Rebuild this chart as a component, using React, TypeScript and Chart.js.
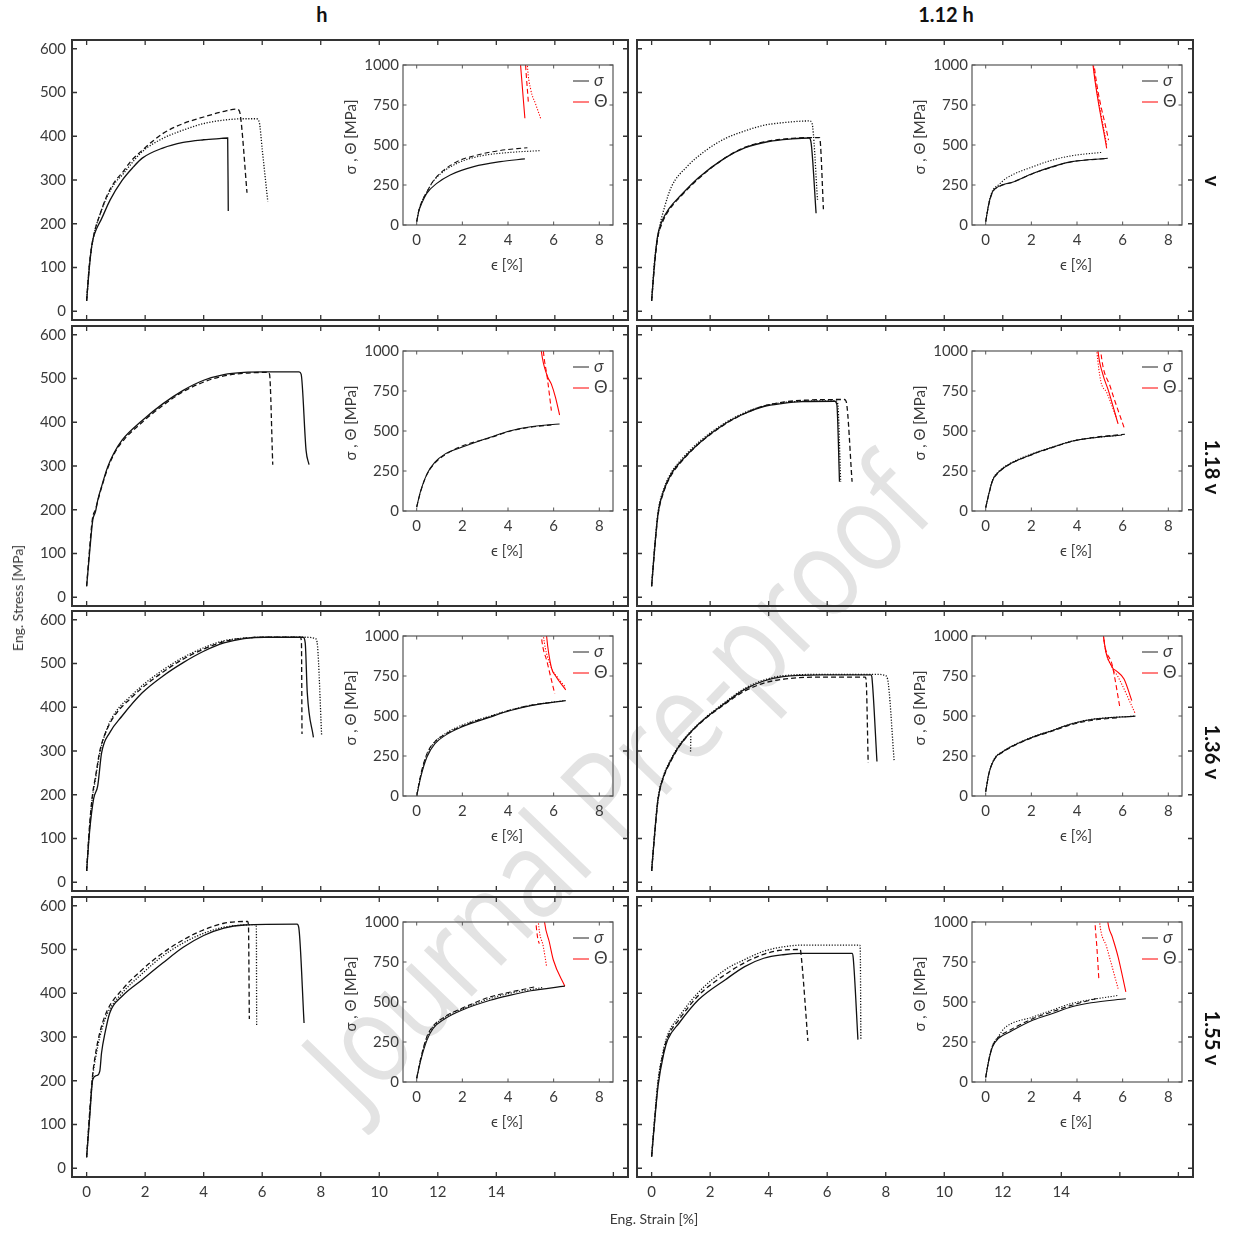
import React, { useEffect, useRef } from "react";
import { Chart, registerables } from "chart.js";
Chart.register(...registerables);

type Pts = [number, number][];

// ---------- tick / label definitions ----------
const MAIN_X_TICKS = [0, 2, 4, 6, 8, 10, 12, 14, 16, 18];
const MAIN_X_LABELED_MAX = 14;
const MAIN_Y_TICKS = [0, 100, 200, 300, 400, 500, 600];
const INSET_X_TICKS = [0, 2, 4, 6, 8];
const INSET_Y_TICKS = [0, 250, 500, 750, 1000];
const COLUMN_TITLES = ["h", "1.12 h"];
const ROW_TITLES = ["v", "1.18 v", "1.36 v", "1.55 v"];
const LEGEND_LABELS = ["σ", "Θ"];
const Y_TITLE = "Eng. Stress [MPa]";
const X_TITLE = "Eng. Strain [%]";
const INSET_Y_TITLE = "σ , Θ [MPa]";
const INSET_X_TITLE = "ϵ [%]";
const WATERMARK = "Journal Pre-proof";

// ---------- panel h / v ----------
const A_M_SOLID: Pts = [[0, 24], [0.1, 105], [0.2, 160], [0.35, 190], [0.5, 210], [0.8, 254], [1.2, 298], [1.6, 330], [1.9, 350], [2.6, 373], [3.3, 386], [4.0, 392], [4.6, 395], [4.82, 396], [4.84, 229]];
const A_M_DASHED: Pts = [[0, 24], [0.1, 110], [0.25, 175], [0.45, 220], [0.7, 265], [1.0, 300], [1.2, 315], [1.5, 342], [1.9, 368], [2.6, 406], [3.3, 429], [4.0, 444], [4.7, 457], [5.1, 462], [5.2, 460], [5.26, 445], [5.48, 271]];
const A_M_DOTTED: Pts = [[0, 24], [0.1, 110], [0.25, 175], [0.45, 220], [0.7, 262], [1.0, 296], [1.2, 310], [1.5, 335], [1.9, 365], [2.6, 395], [3.3, 414], [4.0, 429], [4.7, 437], [5.4, 440], [5.8, 440], [5.9, 432], [6.0, 370], [6.19, 251]];
const A_I_SOLID: Pts = [[0, 21], [0.1, 90], [0.22, 135], [0.44, 198], [0.88, 260], [1.47, 313], [2.5, 365], [3.67, 396], [4.74, 413]];
const A_I_DASHED: Pts = [[0, 21], [0.1, 95], [0.22, 145], [0.44, 205], [0.7, 270], [1.03, 323], [1.76, 396], [2.5, 431], [3.52, 463], [4.85, 483]];
const A_I_DOTTED: Pts = [[0, 21], [0.1, 95], [0.22, 145], [0.44, 205], [0.7, 268], [1.03, 318], [1.76, 385], [2.79, 431], [3.96, 452], [5.43, 465]];
const A_T_SOLID: Pts = [[4.5, 1100], [4.55, 1000], [4.74, 667]];
const A_T_DASHED: Pts = [[4.75, 1050], [4.77, 1000], [4.89, 771]];
const A_T_DOTTED: Pts = [[4.82, 1100], [4.85, 1000], [5.0, 844], [5.2, 760], [5.43, 667]];

// ---------- panel 1.12 h / v ----------
const B_M_SOLID: Pts = [[0, 24], [0.1, 110], [0.2, 170], [0.35, 205], [0.6, 235], [1.0, 265], [1.6, 305], [2.5, 350], [3.2, 374], [4.0, 388], [4.8, 394], [5.38, 396], [5.45, 385], [5.62, 224]];
const B_M_DASHED: Pts = [[0, 24], [0.1, 105], [0.2, 165], [0.35, 200], [0.6, 232], [1.0, 263], [1.6, 303], [2.5, 350], [3.2, 375], [4.0, 389], [4.8, 395], [5.4, 397], [5.73, 397], [5.76, 390], [5.87, 233]];
const B_M_DOTTED: Pts = [[0, 24], [0.1, 115], [0.25, 185], [0.45, 240], [0.68, 285], [1.2, 330], [1.86, 368], [2.52, 395], [3.18, 412], [3.83, 425], [4.49, 431], [5.4, 435], [5.48, 430], [5.67, 254]];
const B_I_SOLID: Pts = [[0, 21], [0.14, 135], [0.3, 208], [0.56, 240], [1.24, 271], [2.08, 323], [2.93, 365], [3.77, 396], [5.35, 417]];
const B_I_DASHED: Pts = [[0, 21], [0.14, 130], [0.3, 205], [0.56, 238], [1.24, 270], [2.08, 322], [2.93, 363], [3.77, 395], [5.3, 416]];
const B_I_DOTTED: Pts = [[0, 21], [0.14, 140], [0.3, 215], [0.56, 250], [0.9, 292], [2.08, 365], [2.93, 406], [3.77, 433], [5.09, 454]];
const B_T_SOLID: Pts = [[4.65, 1080], [4.7, 1000], [5.3, 479]];
const B_T_DASHED: Pts = [[4.7, 1080], [4.75, 1000], [5.38, 531]];
const B_T_DOTTED: Pts = [[4.67, 1080], [4.72, 1000], [5.3, 500]];

// ---------- panel h / 1.18 v ----------
const C_M_SOLID: Pts = [[0, 25], [0.1, 101], [0.21, 177], [0.3, 195], [0.38, 222], [0.51, 253], [0.72, 298], [0.93, 329], [1.21, 359], [1.9, 404], [2.6, 442], [3.3, 473], [4.0, 496], [4.69, 509], [5.38, 514], [6.08, 515], [7.26, 515], [7.33, 510], [7.5, 335], [7.6, 303]];
const C_M_DASHED: Pts = [[0, 25], [0.1, 110], [0.2, 180], [0.3, 200], [0.4, 225], [0.55, 260], [0.75, 300], [1.0, 335], [1.3, 362], [1.9, 400], [2.6, 438], [3.3, 470], [4.0, 492], [4.69, 506], [5.38, 512], [6.2, 514], [6.25, 510], [6.36, 303]];
const C_I_SOLID: Pts = [[0, 25], [0.18, 129], [0.45, 232], [0.8, 305], [1.25, 357], [1.97, 398], [3.22, 461], [4.11, 502], [5.0, 527], [6.26, 544]];
const C_I_DASHED: Pts = [[0, 25], [0.18, 125], [0.45, 228], [0.8, 300], [1.25, 352], [1.97, 405], [3.22, 458], [4.11, 500], [5.0, 524], [5.9, 538]];
const C_T_SOLID: Pts = [[5.4, 1100], [5.46, 1000], [5.72, 844], [5.9, 793], [6.08, 710], [6.26, 600]];
const C_T_DASHED: Pts = [[5.5, 1100], [5.55, 1000], [5.72, 834], [5.9, 627]];

// ---------- panel 1.12 h / 1.18 v ----------
const D_M_SOLID: Pts = [[0, 25], [0.09, 101], [0.22, 192], [0.42, 245], [0.68, 283], [0.94, 306], [1.6, 351], [2.52, 397], [3.18, 420], [3.83, 436], [4.49, 443], [5.14, 447], [6.26, 448], [6.33, 440], [6.42, 264]];
const D_M_DASHED: Pts = [[0, 25], [0.09, 100], [0.22, 188], [0.42, 242], [0.68, 280], [0.94, 304], [1.6, 350], [2.52, 396], [3.18, 420], [3.83, 437], [4.49, 446], [5.14, 450], [6.59, 452], [6.65, 447], [6.85, 264]];
const D_M_DOTTED: Pts = [[0, 25], [0.09, 105], [0.22, 195], [0.42, 248], [0.68, 286], [0.94, 309], [1.6, 354], [2.52, 399], [3.18, 422], [3.83, 437], [4.49, 445], [5.14, 448], [6.3, 449], [6.36, 442], [6.46, 264]];
const D_I_SOLID: Pts = [[0, 21], [0.14, 108], [0.3, 191], [0.56, 243], [1.07, 295], [2.08, 357], [2.93, 398], [3.77, 436], [4.62, 456], [5.97, 475]];
const D_I_DASHED: Pts = [[0, 21], [0.14, 105], [0.3, 188], [0.56, 240], [1.07, 293], [2.08, 355], [2.93, 397], [3.77, 435], [4.62, 458], [6.1, 480]];
const D_I_DOTTED: Pts = [[0, 21], [0.14, 110], [0.3, 195], [0.56, 246], [1.07, 298], [2.08, 360], [2.93, 400], [3.77, 437], [4.62, 456], [5.8, 472]];
const D_T_SOLID: Pts = [[4.88, 1080], [4.92, 1000], [5.13, 855], [5.38, 751], [5.8, 544]];
const D_T_DASHED: Pts = [[5.0, 1080], [5.04, 1000], [5.47, 772], [6.06, 523]];
const D_T_DOTTED: Pts = [[4.83, 1080], [4.87, 1000], [5.04, 813], [5.3, 741], [5.72, 585]];

// ---------- panel h / 1.36 v ----------
const E_M_SOLID: Pts = [[0, 26], [0.1, 115], [0.24, 191], [0.38, 221], [0.51, 295], [0.79, 342], [1.21, 380], [1.9, 433], [2.6, 471], [3.3, 502], [4.0, 528], [4.69, 547], [5.38, 557], [6.08, 560], [7.4, 560], [7.47, 547], [7.54, 433], [7.75, 331]];
const E_M_DASHED: Pts = [[0, 26], [0.1, 130], [0.2, 200], [0.3, 240], [0.45, 300], [0.7, 350], [1.0, 385], [1.5, 420], [2.0, 450], [2.6, 480], [3.3, 510], [4.0, 533], [4.69, 550], [5.38, 558], [6.08, 560], [7.3, 560], [7.34, 550], [7.36, 339]];
const E_M_DOTTED: Pts = [[0, 26], [0.1, 125], [0.2, 195], [0.3, 235], [0.45, 295], [0.7, 352], [1.0, 390], [1.5, 425], [2.0, 455], [2.6, 485], [3.3, 514], [4.0, 536], [4.69, 552], [5.38, 558], [6.08, 560], [7.5, 560], [7.82, 557], [7.89, 540], [8.03, 336]];
const E_I_SOLID: Pts = [[0, 0], [0.18, 120], [0.45, 244], [0.8, 327], [1.25, 379], [1.97, 431], [3.22, 493], [4.11, 534], [5.0, 565], [6.53, 596]];
const E_I_DASHED: Pts = [[0, 0], [0.18, 135], [0.45, 265], [0.8, 340], [1.25, 385], [1.97, 436], [3.22, 497], [4.11, 537], [5.0, 567], [5.9, 585]];
const E_I_DOTTED: Pts = [[0, 0], [0.18, 130], [0.45, 258], [0.8, 338], [1.25, 390], [1.97, 442], [3.22, 500], [4.11, 538], [5.0, 567], [6.5, 597]];
const E_T_SOLID: Pts = [[5.65, 1080], [5.69, 1000], [5.9, 803], [6.08, 752], [6.53, 663]];
const E_T_DASHED: Pts = [[5.42, 1080], [5.46, 1000], [5.72, 834], [6.05, 638]];
const E_T_DOTTED: Pts = [[5.5, 1080], [5.55, 1000], [5.9, 803], [6.17, 741], [6.53, 679]];

// ---------- panel 1.12 h / 1.36 v ----------
const F_M_SOLID: Pts = [[0, 26], [0.09, 100], [0.22, 191], [0.42, 244], [0.62, 274], [0.94, 311], [1.6, 361], [2.52, 410], [3.18, 441], [3.83, 460], [4.49, 470], [5.8, 474], [7.5, 474], [7.53, 467], [7.7, 276]];
const F_M_DASHED: Pts = [[0, 26], [0.09, 98], [0.22, 188], [0.42, 242], [0.62, 272], [0.94, 310], [1.6, 360], [2.52, 408], [3.18, 437], [3.83, 455], [4.49, 464], [5.8, 469], [7.3, 469], [7.33, 462], [7.4, 273]];
const F_M_DOTTED: Pts = [[0, 26], [0.09, 102], [0.22, 193], [0.42, 246], [0.62, 276], [0.94, 313], [1.6, 362], [2.52, 412], [3.18, 443], [3.83, 462], [4.49, 472], [5.8, 475], [7.8, 475], [7.97, 473], [8.06, 465], [8.29, 276]];
const F_M_DOTTED_STEP: Pts = [[1.33, 299], [1.34, 335]];
const F_I_SOLID: Pts = [[0, 27], [0.14, 141], [0.39, 234], [0.73, 275], [1.24, 317], [2.08, 369], [2.93, 410], [3.77, 451], [4.62, 478], [6.56, 499]];
const F_I_DASHED: Pts = [[0, 27], [0.14, 138], [0.39, 230], [0.73, 272], [1.24, 314], [2.08, 366], [2.93, 406], [3.77, 446], [4.62, 472], [5.89, 490]];
const F_I_DOTTED: Pts = [[0, 27], [0.14, 143], [0.39, 236], [0.73, 277], [1.24, 319], [2.08, 371], [2.93, 411], [3.77, 452], [4.62, 479], [6.56, 500]];
const F_T_SOLID: Pts = [[5.12, 1080], [5.16, 1000], [5.55, 803], [5.72, 782], [6.06, 731], [6.4, 596]];
const F_T_DASHED: Pts = [[5.12, 1080], [5.16, 1000], [5.55, 814], [5.89, 544]];
const F_T_DOTTED: Pts = [[5.12, 1080], [5.16, 1000], [5.55, 800], [5.77, 752], [6.56, 513]];

// ---------- panel h / 1.55 v ----------
const G_M_SOLID: Pts = [[0, 25], [0.1, 112], [0.21, 203], [0.35, 212], [0.45, 222], [0.51, 264], [0.63, 310], [0.79, 355], [1.21, 393], [1.9, 431], [2.6, 469], [3.3, 505], [4.0, 532], [4.69, 549], [5.38, 556], [7.19, 558], [7.25, 550], [7.43, 332]];
const G_M_DASHED: Pts = [[0, 25], [0.1, 125], [0.2, 210], [0.3, 260], [0.45, 310], [0.7, 360], [1.21, 408], [1.9, 454], [2.6, 492], [3.3, 522], [4.0, 545], [4.69, 560], [5.38, 564], [5.5, 564], [5.53, 555], [5.56, 341]];
const G_M_DOTTED: Pts = [[0, 25], [0.1, 120], [0.2, 205], [0.3, 250], [0.45, 300], [0.7, 352], [1.21, 400], [1.9, 445], [2.6, 485], [3.3, 515], [4.0, 537], [4.69, 551], [5.38, 556], [5.78, 557], [5.8, 550], [5.81, 327]];
const G_I_SOLID: Pts = [[0, 23], [0.18, 137], [0.45, 262], [0.72, 335], [1.25, 397], [1.97, 449], [3.22, 511], [4.11, 543], [5.0, 570], [6.49, 599]];
const G_I_DASHED: Pts = [[0, 23], [0.18, 150], [0.45, 285], [0.72, 350], [1.25, 410], [1.97, 460], [3.22, 532], [4.11, 562], [5.19, 595]];
const G_I_DOTTED: Pts = [[0, 23], [0.18, 145], [0.45, 278], [0.72, 345], [1.25, 405], [1.97, 455], [3.22, 522], [4.11, 555], [5.5, 590]];
const G_T_SOLID: Pts = [[5.55, 1080], [5.6, 1000], [5.81, 875], [5.99, 761], [6.49, 599]];
const G_T_DASHED: Pts = [[5.18, 1080], [5.22, 1000], [5.3, 900], [5.37, 865]];
const G_T_DOTTED: Pts = [[5.3, 1080], [5.33, 1000], [5.55, 844], [5.69, 723]];

// ---------- panel 1.12 h / 1.55 v ----------
const H_M_SOLID: Pts = [[0, 27], [0.09, 97], [0.22, 188], [0.42, 264], [0.55, 294], [0.94, 332], [1.6, 385], [2.52, 431], [3.18, 461], [3.83, 480], [4.49, 488], [5.14, 491], [6.85, 491], [6.89, 480], [7.05, 294]];
const H_M_DASHED: Pts = [[0, 27], [0.09, 100], [0.22, 195], [0.42, 270], [0.55, 300], [0.94, 340], [1.6, 395], [2.52, 443], [3.18, 470], [3.83, 489], [4.49, 499], [5.08, 500], [5.12, 480], [5.34, 291]];
const H_M_DOTTED: Pts = [[0, 27], [0.09, 105], [0.22, 200], [0.42, 275], [0.55, 305], [0.94, 347], [1.6, 402], [2.52, 454], [3.18, 477], [3.83, 496], [4.49, 506], [5.14, 510], [7.11, 510], [7.13, 500], [7.15, 294]];
const H_I_SOLID: Pts = [[0, 29], [0.14, 137], [0.3, 220], [0.56, 272], [1.07, 314], [2.08, 387], [2.93, 428], [3.77, 470], [4.62, 495], [6.14, 520]];
const H_I_DASHED: Pts = [[0, 29], [0.14, 140], [0.3, 225], [0.56, 280], [1.07, 325], [2.08, 397], [2.93, 440], [3.77, 480], [4.96, 525]];
const H_I_DOTTED: Pts = [[0, 29], [0.14, 142], [0.3, 228], [0.56, 285], [0.81, 335], [2.08, 407], [2.93, 450], [3.77, 491], [5.8, 541]];
const H_T_SOLID: Pts = [[5.3, 1080], [5.35, 1000], [5.55, 906], [5.8, 782], [6.14, 563]];
const H_T_DASHED: Pts = [[4.77, 1080], [4.79, 1000], [4.87, 844], [4.96, 636]];
const H_T_DOTTED: Pts = [[4.95, 1080], [4.99, 1000], [5.3, 844], [5.8, 584]];

type Panel = {
  r: number;
  c: number;
  main: (Pts | null)[];
  extra?: Pts[];
  sig: (Pts | null)[];
  theta: (Pts | null)[];
};

const PANELS: Panel[] = [
  { r: 0, c: 0, main: [A_M_SOLID, A_M_DASHED, A_M_DOTTED], sig: [A_I_SOLID, A_I_DASHED, A_I_DOTTED], theta: [A_T_SOLID, A_T_DASHED, A_T_DOTTED] },
  { r: 0, c: 1, main: [B_M_SOLID, B_M_DASHED, B_M_DOTTED], sig: [B_I_SOLID, B_I_DASHED, B_I_DOTTED], theta: [B_T_SOLID, B_T_DASHED, B_T_DOTTED] },
  { r: 1, c: 0, main: [C_M_SOLID, C_M_DASHED, null], sig: [C_I_SOLID, C_I_DASHED, null], theta: [C_T_SOLID, C_T_DASHED, null] },
  { r: 1, c: 1, main: [D_M_SOLID, D_M_DASHED, D_M_DOTTED], sig: [D_I_SOLID, D_I_DASHED, D_I_DOTTED], theta: [D_T_SOLID, D_T_DASHED, D_T_DOTTED] },
  { r: 2, c: 0, main: [E_M_SOLID, E_M_DASHED, E_M_DOTTED], sig: [E_I_SOLID, E_I_DASHED, E_I_DOTTED], theta: [E_T_SOLID, E_T_DASHED, E_T_DOTTED] },
  { r: 2, c: 1, main: [F_M_SOLID, F_M_DASHED, F_M_DOTTED], extra: [F_M_DOTTED_STEP], sig: [F_I_SOLID, F_I_DASHED, F_I_DOTTED], theta: [F_T_SOLID, F_T_DASHED, F_T_DOTTED] },
  { r: 3, c: 0, main: [G_M_SOLID, G_M_DASHED, G_M_DOTTED], sig: [G_I_SOLID, G_I_DASHED, G_I_DOTTED], theta: [G_T_SOLID, G_T_DASHED, G_T_DOTTED] },
  { r: 3, c: 1, main: [H_M_SOLID, H_M_DASHED, H_M_DOTTED], sig: [H_I_SOLID, H_I_DASHED, H_I_DOTTED], theta: [H_T_SOLID, H_T_DASHED, H_T_DOTTED] },
];

// ---------- styling ----------
const FONT = 'Lato, "Open Sans", "DejaVu Sans", sans-serif';
const TEXT_COLOR = "#3a3a3a";
const DASHES: number[][] = [[], [5, 3], [1.2, 1.6]];
const MAIN_W = 556;
const MAIN_H = 280;
const INSET_W = 210;
const INSET_H = 160;
const ROW_STEP = 285.67;
const PAD = 14;
const colMainLeft = (c: number) => (c === 0 ? 72 : 637);
const colInsetLeft = (c: number) => (c === 0 ? 403 : 972);
const rowMainTop = (r: number) => Math.round(40 + r * ROW_STEP);
const rowInsetTop = (r: number) => Math.round(65 + r * ROW_STEP);

function makeDs(pts: Pts, style: number, color: string, width: number) {
  return {
    data: pts.map(([x, y]) => ({ x, y })),
    borderColor: color,
    borderWidth: width,
    borderDash: DASHES[style],
    pointRadius: 0,
    fill: false,
    cubicInterpolationMode: "monotone",
  };
}

const frameTicks = {
  id: "frameTicks",
  afterDatasetsDraw(chart: any, _args: any, opts: any) {
    const { ctx, chartArea: a, scales } = chart;
    const L = opts.len;
    ctx.save();
    ctx.strokeStyle = opts.color;
    ctx.lineWidth = opts.tickWidth;
    ctx.setLineDash([]);
    ctx.beginPath();
    for (const t of scales.x.ticks) {
      const px = scales.x.getPixelForValue(t.value);
      ctx.moveTo(px, a.bottom);
      ctx.lineTo(px, a.bottom - L);
      ctx.moveTo(px, a.top);
      ctx.lineTo(px, a.top + L);
    }
    for (const t of scales.y.ticks) {
      const py = scales.y.getPixelForValue(t.value);
      ctx.moveTo(a.left, py);
      ctx.lineTo(a.left + L, py);
      ctx.moveTo(a.right, py);
      ctx.lineTo(a.right - L, py);
    }
    ctx.stroke();
    ctx.lineWidth = opts.frame;
    ctx.strokeRect(a.left, a.top, a.right - a.left, a.bottom - a.top);
    ctx.restore();
  },
};

const insetLegend = {
  id: "insetLegend",
  afterDraw(chart: any) {
    const { ctx, chartArea: a } = chart;
    const rows = [
      { label: LEGEND_LABELS[0], color: "#222222", italic: true, dy: 16 },
      { label: LEGEND_LABELS[1], color: "#ff0000", italic: false, dy: 37 },
    ];
    ctx.save();
    for (const row of rows) {
      ctx.strokeStyle = row.color;
      ctx.lineWidth = 1;
      ctx.setLineDash([]);
      ctx.beginPath();
      ctx.moveTo(a.right - 40, a.top + row.dy);
      ctx.lineTo(a.right - 24, a.top + row.dy);
      ctx.stroke();
      ctx.fillStyle = TEXT_COLOR;
      ctx.font = `${row.italic ? "italic " : ""}17px ${FONT}`;
      ctx.textBaseline = "middle";
      ctx.textAlign = "left";
      ctx.fillText(row.label, a.right - 19, a.top + row.dy);
    }
    ctx.restore();
  },
};

const fitX = (h: number) => (s: any) => {
  s.height = h;
  s.paddingLeft = 0;
  s.paddingRight = 0;
  s.paddingTop = 0;
  s.paddingBottom = 0;
};
const fitY = (w: number) => (s: any) => {
  s.width = w;
  s.paddingLeft = 0;
  s.paddingRight = 0;
  s.paddingTop = 0;
  s.paddingBottom = 0;
};

function mainConfig(p: Panel): any {
  const bottom = p.r === 3;
  const datasets: any[] = [];
  p.main.forEach((pts, i) => {
    if (pts) datasets.push(makeDs(pts, i, "#111111", 1.3));
  });
  (p.extra || []).forEach((pts) => datasets.push(makeDs(pts, 2, "#111111", 1.3)));
  return {
    type: "line",
    data: { datasets },
    options: {
      animation: false,
      responsive: false,
      maintainAspectRatio: false,
      devicePixelRatio: 1,
      events: [],
      layout: { padding: { top: PAD, right: 4, left: 0, bottom: 0 } },
      plugins: {
        legend: { display: false },
        tooltip: { enabled: false },
        frameTicks: { len: 5, frame: 2, tickWidth: 1.3, color: "#333333" },
      },
      scales: {
        x: {
          type: "linear",
          min: -0.5,
          max: 18.5,
          afterBuildTicks: (s: any) => {
            s.ticks = MAIN_X_TICKS.map((v) => ({ value: v }));
          },
          afterFit: fitX(bottom ? 34 : PAD),
          ticks: {
            display: bottom,
            autoSkip: false,
            maxRotation: 0,
            padding: 6,
            color: TEXT_COLOR,
            font: { family: FONT, size: 15 },
            callback: (v: number) => (v <= MAIN_X_LABELED_MAX ? String(v) : ""),
          },
          grid: { display: false, drawTicks: false },
          border: { display: false },
        },
        y: {
          type: "linear",
          min: -20,
          max: 620,
          afterBuildTicks: (s: any) => {
            s.ticks = MAIN_Y_TICKS.map((v) => ({ value: v }));
          },
          afterFit: fitY(50),
          ticks: {
            display: p.c === 0,
            autoSkip: false,
            padding: 6,
            color: TEXT_COLOR,
            font: { family: FONT, size: 15 },
            callback: (v: number) => String(v),
          },
          grid: { display: false, drawTicks: false },
          border: { display: false },
        },
      },
    },
    plugins: [frameTicks],
  };
}

function insetConfig(p: Panel): any {
  const datasets: any[] = [];
  p.sig.forEach((pts, i) => {
    if (pts) datasets.push(makeDs(pts, i, "#111111", 1.1));
  });
  p.theta.forEach((pts, i) => {
    if (pts) datasets.push(makeDs(pts, i, "#ff0000", 1.1));
  });
  return {
    type: "line",
    data: { datasets },
    options: {
      animation: false,
      responsive: false,
      maintainAspectRatio: false,
      devicePixelRatio: 1,
      events: [],
      layout: { padding: { top: PAD, right: 6, left: 0, bottom: 0 } },
      plugins: {
        legend: { display: false },
        tooltip: { enabled: false },
        frameTicks: { len: 3.5, frame: 1.2, tickWidth: 1, color: "#555555" },
      },
      scales: {
        x: {
          type: "linear",
          min: -0.6,
          max: 8.6,
          afterBuildTicks: (s: any) => {
            s.ticks = INSET_X_TICKS.map((v) => ({ value: v }));
          },
          afterFit: fitX(24),
          ticks: {
            autoSkip: false,
            maxRotation: 0,
            padding: 6,
            color: TEXT_COLOR,
            font: { family: FONT, size: 15 },
            callback: (v: number) => String(v),
          },
          grid: { display: false, drawTicks: false },
          border: { display: false },
        },
        y: {
          type: "linear",
          min: 0,
          max: 1000,
          afterBuildTicks: (s: any) => {
            s.ticks = INSET_Y_TICKS.map((v) => ({ value: v }));
          },
          afterFit: fitY(70),
          ticks: {
            autoSkip: false,
            padding: 4,
            color: TEXT_COLOR,
            font: { family: FONT, size: 15 },
            callback: (v: number) => String(v),
          },
          grid: { display: false, drawTicks: false },
          border: { display: false },
        },
      },
    },
    plugins: [frameTicks, insetLegend],
  };
}

function ChartBox(props: { left: number; top: number; width: number; height: number; make: () => any }) {
  const ref = useRef<HTMLCanvasElement>(null);
  useEffect(() => {
    const chart = new Chart(ref.current as HTMLCanvasElement, props.make());
    return () => chart.destroy();
  }, []);
  return (
    <canvas
      ref={ref}
      width={props.width}
      height={props.height}
      style={{ position: "absolute", left: props.left, top: props.top, width: props.width, height: props.height }}
    />
  );
}

function Label(props: { x: number; y: number; text: string; size: number; bold?: boolean; rotate?: number }) {
  return (
    <div
      style={{
        position: "absolute",
        left: props.x,
        top: props.y,
        transform: `translate(-50%, -50%) rotate(${props.rotate || 0}deg)`,
        fontFamily: FONT,
        fontSize: props.size,
        fontWeight: props.bold ? 700 : 400,
        color: props.bold ? "#111111" : TEXT_COLOR,
        whiteSpace: "nowrap",
        lineHeight: 1,
      }}
    >
      {props.text}
    </div>
  );
}

export default function App() {
  return (
    <div
      style={{
        position: "absolute",
        left: 0,
        top: 0,
        width: 1233,
        height: 1234,
        background: "#ffffff",
        overflow: "hidden",
      }}
    >
      <div
        style={{
          position: "absolute",
          left: 614,
          top: 780,
          transform: "translate(-50%, -50%) rotate(-46deg) scale(0.84, 1)",
          fontFamily: '"Open Sans", Lato, sans-serif',
          fontSize: 124,
          color: "#e3e3e3",
          whiteSpace: "nowrap",
          lineHeight: 1,
        }}
      >
        {WATERMARK}
      </div>
      {PANELS.map((p) => {
        const ax = colMainLeft(p.c);
        const ay = rowMainTop(p.r);
        const bottom = p.r === 3;
        return (
          <ChartBox
            key={`m${p.r}${p.c}`}
            left={ax - 50}
            top={ay - PAD}
            width={MAIN_W + 54}
            height={MAIN_H + PAD + (bottom ? 34 : PAD)}
            make={() => mainConfig(p)}
          />
        );
      })}
      {PANELS.map((p) => {
        const ix = colInsetLeft(p.c);
        const iy = rowInsetTop(p.r);
        return (
          <ChartBox
            key={`i${p.r}${p.c}`}
            left={ix - 70}
            top={iy - PAD}
            width={INSET_W + 76}
            height={INSET_H + PAD + 24}
            make={() => insetConfig(p)}
          />
        );
      })}
      {PANELS.map((p) => {
        const ix = colInsetLeft(p.c);
        const iy = rowInsetTop(p.r);
        return (
          <React.Fragment key={`t${p.r}${p.c}`}>
            <Label x={ix - 53} y={iy + 72} text={INSET_Y_TITLE} size={15} rotate={-90} />
            <Label x={ix + 104} y={iy + INSET_H + 39} text={INSET_X_TITLE} size={15} />
          </React.Fragment>
        );
      })}
      <Label x={322} y={14} text={COLUMN_TITLES[0]} size={20} bold />
      <Label x={946} y={14} text={COLUMN_TITLES[1]} size={20} bold />
      {ROW_TITLES.map((t, r) => (
        <Label key={t} x={1213} y={Math.round(181 + r * ROW_STEP)} text={t} size={20} bold rotate={90} />
      ))}
      <Label x={18} y={598} text={Y_TITLE} size={14} rotate={-90} />
      <Label x={654} y={1219} text={X_TITLE} size={14} />
    </div>
  );
}
